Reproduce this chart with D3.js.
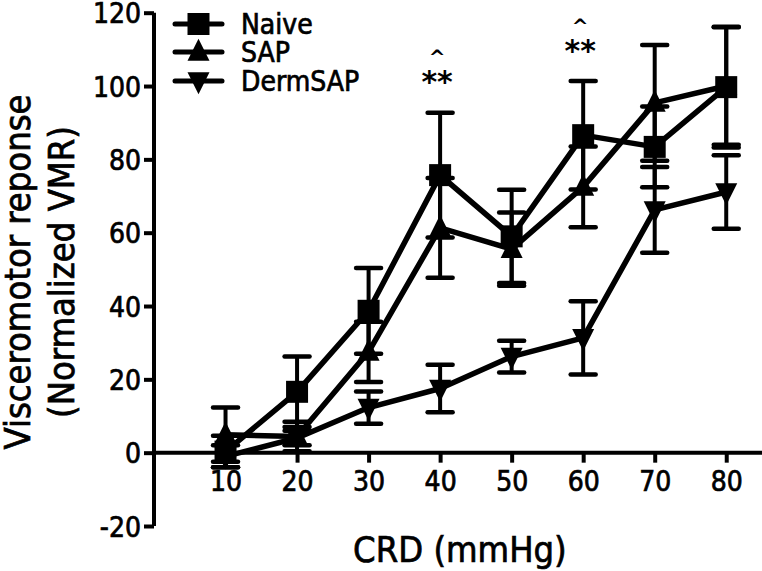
<!DOCTYPE html>
<html><head><meta charset="utf-8">
<script src="https://cdn.jsdelivr.net/npm/d3@7"></script>
<style>body{margin:0;background:#fff}svg{display:block}</style>
</head><body>
<script>
const crd = [10, 20, 30, 40, 50, 60, 70, 80];
const naiveMean = [0.3, 16.6, 38.7, 75.7, 59, 86.6, 83.4, 99.7];
const naiveSem  = [4.3, 9.6, 11.7, 17, 12.7, 14.8, 11, 16.5];
const sapMean   = [4.9, 4.4, 27.5, 61.3, 55.5, 72.5, 95.4, 100];
const sapSem    = [7.4, 4, 8.2, 13.6, 10, 11, 15.8, 16];
const dermMean  = [-1, 4, 12.3, 17.5, 26.2, 31.3, 66.2, 71.1];
const dermSem   = [3, 2, 4.4, 6.5, 4.3, 10, 11.7, 10];
const seriesNames = ["Naive", "SAP", "DermSAP"];
const yTicks = [-20, 0, 20, 40, 60, 80, 100, 120];
const xTicks = [10, 20, 30, 40, 50, 60, 70, 80];
const sigX = [40, 60];
const sigStars = ["**", "**"];
const sigCaret = ["^", "^"];

const W = 762, H = 571;
const svg = d3.select("body").append("svg").attr("width", W).attr("height", H);
const x = d3.scaleLinear().domain([0, 85]).range([154, 762]);
const y = d3.scaleLinear().domain([-20, 120]).range([526, 12.7]);
const font = "'DejaVu Sans Condensed', 'DejaVu Sans', sans-serif";
const heavy = sel => sel.attr("stroke", "#000").attr("stroke-width", 0.7);

// axes
const yAxis = svg.append("g").attr("transform", `translate(${x(0)},0)`)
  .call(d3.axisLeft(y).tickValues(yTicks).tickSize(10).tickPadding(3).tickFormat(d => String(d)));
const xAxis = svg.append("g").attr("transform", `translate(0,${y(0)})`)
  .call(d3.axisBottom(x).tickValues(xTicks).tickSize(10).tickPadding(6).tickFormat(d => String(d)));
[yAxis, xAxis].forEach(g => {
  g.select(".domain").remove();
  g.selectAll(".tick line").attr("stroke", "#000").attr("stroke-width", 4);
  g.selectAll(".tick text").attr("fill", "#000").style("font-family", font).style("font-size", "28px").call(heavy);
});
yAxis.selectAll(".tick text").attr("dy", "0.36em");
xAxis.selectAll(".tick text").attr("dy", "0.8em");
svg.append("line").attr("x1", x(0)).attr("x2", x(0)).attr("y1", y(120)).attr("y2", y(-20))
  .attr("stroke", "#000").attr("stroke-width", 4);
svg.append("line").attr("x1", x(0) - 2).attr("x2", W).attr("y1", y(0)).attr("y2", y(0))
  .attr("stroke", "#000").attr("stroke-width", 4);

// titles
svg.append("text").attr("x", (x(10) + x(80)) / 2 - 16).attr("y", 562).attr("text-anchor", "middle")
  .style("font-family", font).style("font-size", "36px").call(heavy).text("CRD (mmHg)");
const yt = svg.append("text").attr("transform", "translate(1,272) rotate(-90)").attr("text-anchor", "middle")
  .style("font-family", font).style("font-size", "36px").call(heavy);
yt.append("tspan").attr("x", 0).attr("y", 29).text("Visceromotor reponse");
yt.append("tspan").attr("x", 0).attr("y", 73).text("(Normalized VMR)");

// symbols
const sqSym = d3.symbol().type(d3.symbolSquare).size(22 * 22);
function triUp(cx, cy, s) { return `M${cx},${cy - s * 0.6}L${cx + s / 2},${cy + s * 0.4}L${cx - s / 2},${cy + s * 0.4}Z`; }
function triDown(cx, cy, s) { return `M${cx},${cy + s * 0.6}L${cx + s / 2},${cy - s * 0.4}L${cx - s / 2},${cy - s * 0.4}Z`; }
function marker(g, kind, cx, cy, s) {
  if (kind === 0) g.append("path").attr("d", sqSym()).attr("transform", `translate(${cx},${cy})`).attr("fill", "#000");
  else if (kind === 1) g.append("path").attr("d", triUp(cx, cy, s)).attr("fill", "#000");
  else g.append("path").attr("d", triDown(cx, cy, s)).attr("fill", "#000");
}

const series = [
  { mean: dermMean, sem: dermSem, kind: 2 },
  { mean: sapMean, sem: sapSem, kind: 1 },
  { mean: naiveMean, sem: naiveSem, kind: 0 },
];
const line = d3.line().x(d => x(d[0])).y(d => y(d[1]));
series.forEach(s => {
  const g = svg.append("g");
  const pts = crd.map((c, i) => [c, s.mean[i], s.sem[i]]);
  pts.forEach(p => {
    g.append("line").attr("x1", x(p[0])).attr("x2", x(p[0])).attr("y1", y(p[1] - p[2])).attr("y2", y(p[1] + p[2]))
      .attr("stroke", "#000").attr("stroke-width", 4);
    [p[1] - p[2], p[1] + p[2]].forEach(v => {
      g.append("line").attr("x1", x(p[0]) - 12.5).attr("x2", x(p[0]) + 12.5).attr("y1", y(v)).attr("y2", y(v))
        .attr("stroke", "#000").attr("stroke-width", 4.5).attr("stroke-linecap", "round");
    });
  });
  g.append("path").datum(pts).attr("d", line).attr("fill", "none").attr("stroke", "#000")
    .attr("stroke-width", 5.5).attr("stroke-linejoin", "round");
  pts.forEach(p => marker(g, s.kind, x(p[0]), y(p[1]), 22));
});

// significance marks (star centre ~76 / 45 px, caret ~52 / 23 px)
const starBase = [92, 61];
sigX.forEach((c, i) => {
  svg.append("text").attr("x", x(c) - 3).attr("y", starBase[i]).attr("text-anchor", "middle")
    .style("font-family", "'DejaVu Sans', sans-serif").style("font-weight", "bold").style("font-size", "30px").text(sigStars[i]);
  svg.append("text").attr("x", x(c) - 3).attr("y", starBase[i] - 28).attr("text-anchor", "middle")
    .style("font-family", "'DejaVu Sans', sans-serif").style("font-weight", "bold").style("font-size", "20px").text(sigCaret[i]);
});

// legend
const legY = [24, 52, 81];
seriesNames.forEach((n, i) => {
  const g = svg.append("g");
  g.append("line").attr("x1", 175).attr("x2", 222).attr("y1", legY[i]).attr("y2", legY[i])
    .attr("stroke", "#000").attr("stroke-width", 5).attr("stroke-linecap", "round");
  marker(g, i, 198.5, legY[i], 22);
  g.append("text").attr("x", 241).attr("y", legY[i] + 10).style("font-family", font).style("font-size", "28px")
    .call(heavy).text(n);
});
</script>
</body></html>
